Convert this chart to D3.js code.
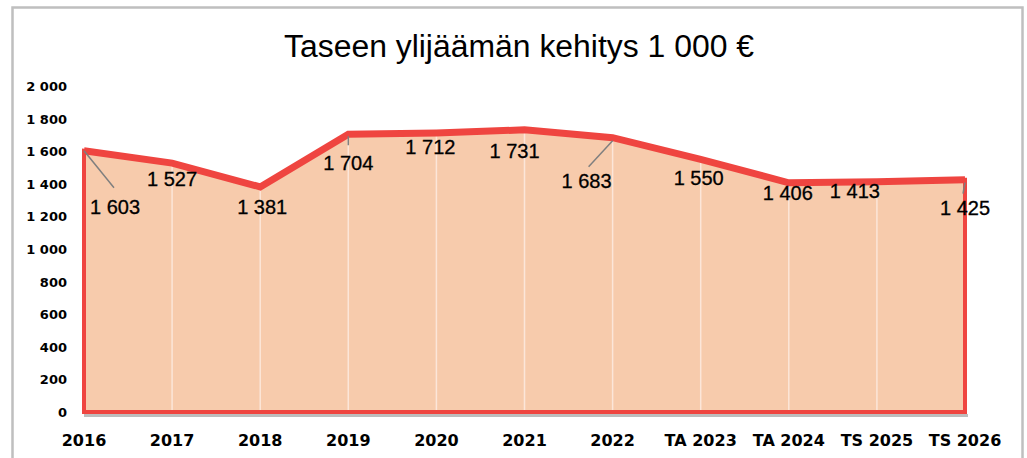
<!DOCTYPE html>
<html><head><meta charset="utf-8">
<script src="https://cdn.jsdelivr.net/npm/d3@7"></script>
<style>html,body{margin:0;padding:0;background:#fff;}svg{display:block;}</style>
</head><body>
<svg id="c" width="1027" height="458"></svg>
<script>
const categories = ["2016","2017","2018","2019","2020","2021","2022","TA 2023","TA 2024","TS 2025","TS 2026"];
const values = [1603,1527,1381,1704,1712,1731,1683,1550,1406,1413,1425];
const valueLabels = ["1 603","1 527","1 381","1 704","1 712","1 731","1 683","1 550","1 406","1 413","1 425"];
const yTicks = [0,200,400,600,800,1000,1200,1400,1600,1800,2000];
const title = "Taseen ylijäämän kehitys 1 000 €";
// label offsets (dx, dy) relative to the point
const labelOffsets = [[31,56],[0,16],[2,20],[0,29],[-6,14],[-10,21],[-26,43],[-2,19],[-1,10],[-22,9],[0,28]];
const leaders = [[[0,0],[30,37]],null,null,[[0,2],[0,11]],null,null,[[0,3],[-24,29]],null,null,null,[[0,3],[-2,14]]];

const svg = d3.select("#c");
const x = d3.scalePoint().domain(categories).range([84, 965]);
const y = d3.scaleLinear().domain([0,2000]).range([412, 86]);

// frame
svg.append("rect").attr("x",12.5).attr("y",7.5).attr("width",1010).attr("height",470)
  .attr("fill","#fff").attr("stroke","#BFBFBF").attr("stroke-width",2.5);

// title
svg.append("text").attr("x",519).attr("y",57).attr("text-anchor","middle")
  .attr("font-family","Liberation Sans, Arial, sans-serif").attr("font-size",31)
  .attr("textLength",470).attr("lengthAdjust","spacingAndGlyphs")
  .attr("fill","#000").text(title);

const data = categories.map((c,i)=>({c, v: values[i], l: valueLabels[i], i}));

// shadow under the bottom
svg.append("line").attr("x1",x(categories[0])).attr("x2",x(categories[categories.length-1])+3)
  .attr("y1",y(0)+3.5).attr("y2",y(0)+3.5).attr("stroke","#BDBDBD").attr("stroke-width",3);

// area
const area = d3.area().x(d=>x(d.c)).y0(y(0)).y1(d=>y(d.v));
svg.append("path").datum(data).attr("d",area).attr("fill","#F7CBAC")
  .attr("stroke","#EF4540").attr("stroke-width",4).attr("stroke-linejoin","miter");

// vertical gridlines
svg.append("g").selectAll("line").data(data.slice(1,-1)).join("line")
  .attr("x1",d=>x(d.c)).attr("x2",d=>x(d.c)).attr("y1",y(0)-2).attr("y2",d=>y(d.v)+3)
  .attr("stroke","#FCE6D9").attr("stroke-width",1.5);

// top line
const line = d3.line().x(d=>x(d.c)).y(d=>y(d.v));
svg.append("path").datum(data).attr("d",line).attr("fill","none")
  .attr("stroke","#EF4540").attr("stroke-width",7).attr("stroke-linejoin","miter");

// y axis labels
svg.append("g").selectAll("text").data(yTicks).join("text")
  .attr("x",67).attr("y",d=>y(d)+5).attr("text-anchor","end")
  .attr("font-family","DejaVu Sans, sans-serif").attr("font-weight","bold").attr("font-size",13)
  .attr("fill","#000").text(d=>d===0?"0":d3.format(",")(d).replace(","," "));

// x axis labels
svg.append("g").selectAll("text").data(categories).join("text")
  .attr("x",d=>x(d)).attr("y",446).attr("text-anchor","middle")
  .attr("font-family","DejaVu Sans, sans-serif").attr("font-weight","bold").attr("font-size",16)
  .attr("fill","#000").text(d=>d);

// leaders
svg.append("g").selectAll("line").data(data.filter(d=>leaders[d.i])).join("line")
  .attr("x1",d=>x(d.c)+leaders[d.i][0][0]).attr("y1",d=>y(d.v)+leaders[d.i][0][1])
  .attr("x2",d=>x(d.c)+leaders[d.i][1][0]).attr("y2",d=>y(d.v)+leaders[d.i][1][1])
  .attr("stroke","#7F7F7F").attr("stroke-width",1.5);

// value labels
svg.append("g").selectAll("text").data(data).join("text")
  .attr("x",d=>x(d.c)+labelOffsets[d.i][0]).attr("y",d=>y(d.v)+labelOffsets[d.i][1]+7)
  .attr("text-anchor","middle")
  .attr("font-family","Liberation Sans, Arial, sans-serif").attr("font-size",20)
  .attr("fill","#000").attr("stroke","#000").attr("stroke-width",0.3).text(d=>d.l);
</script>
</body></html>
